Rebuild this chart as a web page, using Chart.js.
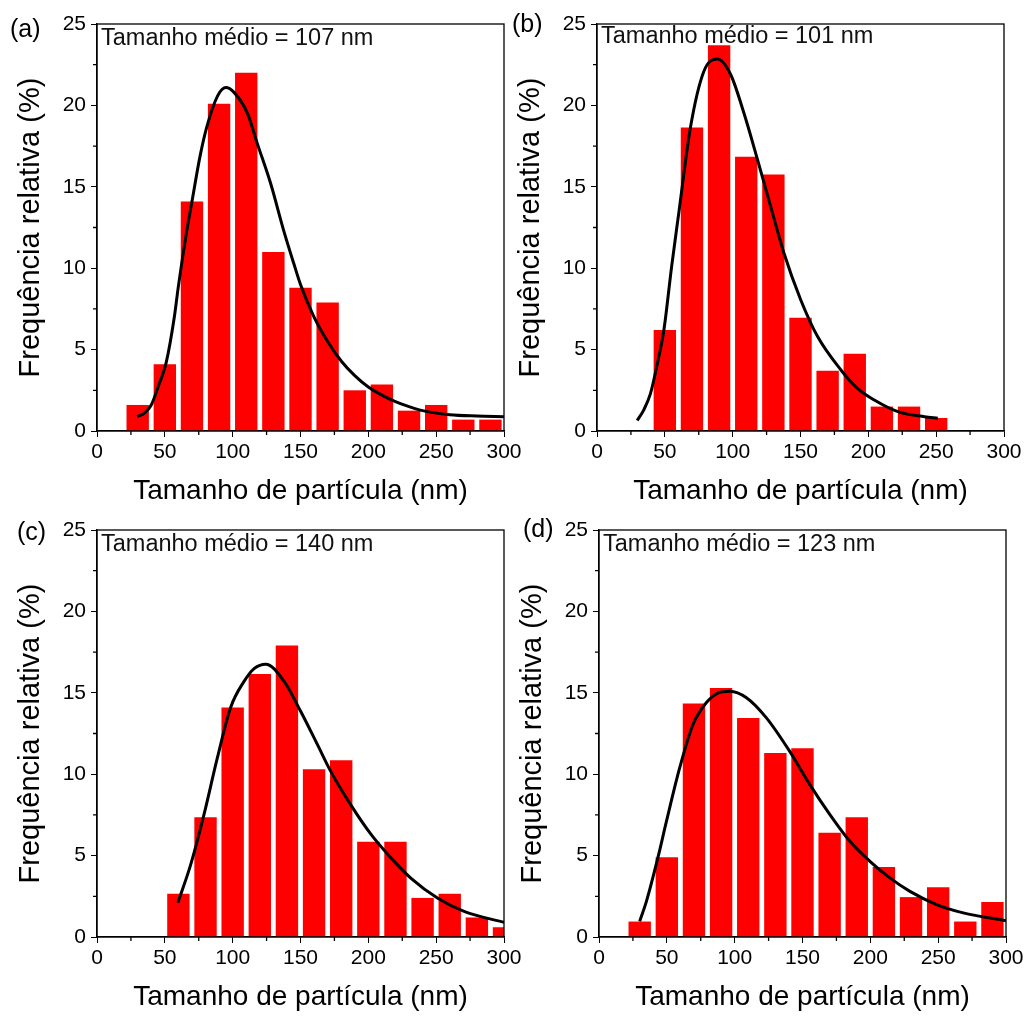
<!DOCTYPE html>
<html lang="pt">

<head>
    <meta charset="UTF-8">
    <script src="https://cdn.jsdelivr.net/npm/chart.js@4.4.1/dist/chart.umd.min.js"></script>
    <title>Distribuição de tamanho</title>
    <style>
        html, body { margin: 0; padding: 0; background: #fff; overflow: hidden; }
        body { position: relative; width: 1027px; height: 1020px; }
        canvas { position: absolute; }
    </style>
</head>

<body>
    <canvas id="chartA" width="530" height="514" style="left:0px;top:0px"></canvas>
    <canvas id="chartB" width="527" height="514" style="left:500px;top:0px"></canvas>
    <canvas id="chartC" width="530" height="514" style="left:0px;top:506px"></canvas>
    <canvas id="chartD" width="525" height="514" style="left:502px;top:506px"></canvas>
</body>

<script type='text/javascript'>

    // histogram bins (nm) and relative frequency (%)
    const binsA = [30, 50, 70, 90, 110, 130, 150, 170, 190, 210, 230, 250, 270, 290]
    const freqA = [1.6, 4.1, 14.1, 20.1, 22.0, 11.0, 8.8, 7.9, 2.5, 2.85, 1.25, 1.6, 0.7, 0.7]
    const fitXA = [29.6, 35, 40, 45, 51, 57, 60, 66, 70, 76, 81, 89, 95, 101, 111, 118, 128, 138, 145, 150, 160, 170, 180, 190, 200, 210, 220, 230, 240, 260, 280, 300]
    const fitYA = [0.88, 1.1, 1.6, 2.7, 4.2, 7.0, 8.9, 12.2, 14.1, 16.9, 18.7, 20.6, 21.1, 20.8, 19.5, 17.7, 15.2, 12.2, 10.3, 9.0, 7.0, 5.5, 4.3, 3.4, 2.7, 2.2, 1.8, 1.5, 1.25, 1.0, 0.92, 0.88]

    const binsB = [50, 70, 90, 110, 130, 150, 170, 190, 210, 230, 250]
    const freqB = [6.2, 18.65, 23.7, 16.85, 15.75, 6.95, 3.7, 4.75, 1.5, 1.5, 0.8]
    const fitXB = [29.6, 34.5, 39.4, 44, 49.3, 55, 60.3, 69, 78.8, 88.7, 98.5, 108.4, 118.2, 128, 137.9, 150.2, 162.6, 179.8, 192, 204.4, 221.7, 241.4, 251.2]
    const fitYB = [0.64, 1.3, 2.3, 3.95, 6.2, 10.1, 13.4, 18.7, 22.1, 22.85, 21.9, 19.5, 16.7, 13.8, 10.9, 8.05, 5.8, 3.75, 2.62, 1.9, 1.19, 0.88, 0.78]

    const binsC = [60, 80, 100, 120, 140, 160, 180, 200, 220, 240, 260, 280, 300]
    const freqC = [2.65, 7.35, 14.1, 16.15, 17.9, 10.3, 10.85, 5.85, 5.85, 2.4, 2.65, 1.2, 0.6]
    const fitXC = [59.6, 69, 78.8, 88.7, 98.5, 108.4, 116, 124.4, 137.9, 150.2, 162.6, 172.4, 187.2, 202, 216.7, 231.5, 251.2, 271, 300]
    const fitYC = [2.11, 4.43, 7.5, 11.0, 14.1, 15.7, 16.5, 16.76, 15.7, 13.85, 11.8, 10.16, 8.1, 6.3, 4.86, 3.6, 2.38, 1.56, 0.9]

    const binsD = [30, 50, 70, 90, 110, 130, 150, 170, 190, 210, 230, 250, 270, 290]
    const freqD = [0.95, 4.9, 14.35, 15.3, 13.45, 11.3, 11.6, 6.4, 7.35, 4.3, 2.45, 3.05, 0.95, 2.15]
    const fitXD = [30, 35, 43.5, 49.7, 59.5, 69.3, 79.2, 88, 96.4, 108.7, 123.4, 140.6, 155.4, 170.2, 184.9, 199.7, 214.4, 229.2, 248.8, 268.5, 300]
    const fitYD = [0.96, 2.2, 4.9, 7.1, 10.4, 13.05, 14.4, 15.0, 15.1, 14.7, 13.46, 11.4, 9.36, 7.52, 5.88, 4.65, 3.63, 2.8, 1.99, 1.48, 1.0]

    // minor tick positions
    const xMinor = [25, 75, 125, 175, 225, 275]
    const yMinor = [2.5, 7.5, 12.5, 17.5, 22.5]

    Chart.defaults.font.family = '"Liberation Sans", Arial, sans-serif'
    Chart.defaults.color = '#000'

    // frame, minor ticks, panel letter and mean-size note
    const framePlugin = {
        id: 'frame',
        afterDraw(chart, args, opts) {
            const { ctx, chartArea: a, scales: { x, y } } = chart
            ctx.save()
            ctx.strokeStyle = '#000'
            ctx.lineWidth = 1.3
            ctx.strokeRect(a.left, a.top, a.right - a.left, a.bottom - a.top)
            ctx.beginPath()
            xMinor.forEach(v => {
                const px = x.getPixelForValue(v)
                ctx.moveTo(px, a.bottom)
                ctx.lineTo(px, a.bottom + 4)
            })
            yMinor.forEach(v => {
                const py = y.getPixelForValue(v)
                ctx.moveTo(a.left, py)
                ctx.lineTo(a.left - 4, py)
            })
            ctx.stroke()
            ctx.fillStyle = '#000'
            ctx.textBaseline = 'alphabetic'
            ctx.textAlign = 'left'
            ctx.font = '25px "Liberation Sans", Arial, sans-serif'
            ctx.fillText(opts.letter, opts.lx, opts.ly)
            ctx.fillStyle = '#111'
            ctx.font = '23.5px "Liberation Sans", Arial, sans-serif'
            ctx.fillText(opts.note, a.left + 4, a.top + opts.noteY)
            ctx.restore()
        }
    }

    makePanel = (id, bins, freq, fitX, fitY, padRight, letter, lx, ly, note, noteY) => {
        const ctx = document.getElementById(id).getContext('2d')
        return new Chart(ctx, {
            type: 'bar',
            data: {
                datasets: [{
                    type: 'line',
                    data: fitX.map((v, i) => ({ x: v, y: fitY[i] })),
                    borderColor: '#000',
                    borderWidth: 3,
                    pointRadius: 0,
                    cubicInterpolationMode: 'monotone',
                    order: 0
                }, {
                    type: 'bar',
                    data: bins.map((v, i) => ({ x: v, y: freq[i] })),
                    backgroundColor: '#ff0000',
                    barPercentage: 1,
                    categoryPercentage: 0.825,
                    clip: 0,
                    order: 1
                }]
            },
            options: {
                responsive: false,
                animation: false,
                layout: { padding: { top: 24, right: padRight, left: 0, bottom: 0 } },
                plugins: {
                    legend: { display: false },
                    tooltip: { enabled: false },
                    frame: { letter: letter, lx: lx, ly: ly, note: note, noteY: noteY }
                },
                scales: {
                    x: {
                        type: 'linear',
                        min: 0,
                        max: 300,
                        offset: false,
                        grid: { drawOnChartArea: false, tickLength: 6, color: '#000', offset: false },
                        border: { color: '#000', width: 1.3 },
                        ticks: { stepSize: 50, font: { size: 21 }, padding: 3, maxRotation: 0, autoSkip: false },
                        title: { display: true, text: 'Tamanho de partícula (nm)', font: { size: 28 }, padding: { top: 0, bottom: 6 } },
                        afterFit: s => { s.height = 83; s.paddingLeft = 0; s.paddingRight = 0 }
                    },
                    y: {
                        min: 0,
                        max: 25,
                        grid: { drawOnChartArea: false, tickLength: 6, color: '#000' },
                        border: { color: '#000', width: 1.3 },
                        ticks: { stepSize: 5, font: { size: 21 }, padding: 5 },
                        title: { display: true, text: 'Frequência relativa (%)', font: { size: 29 }, padding: { top: 14, bottom: 0 } },
                        afterFit: s => { s.width = 97 }
                    }
                }
            },
            plugins: [framePlugin]
        })
    }

    makePanel('chartA', binsA, freqA, fitXA, fitYA, 26, '(a)', 10, 37, 'Tamanho médio = 107 nm', 21)
    makePanel('chartB', binsB, freqB, fitXB, fitYB, 23, '(b)', 12, 32, 'Tamanho médio = 101 nm', 19)
    makePanel('chartC', binsC, freqC, fitXC, fitYC, 26, '(c)', 17, 34, 'Tamanho médio = 140 nm', 21)
    makePanel('chartD', binsD, freqD, fitXD, fitYD, 21, '(d)', 21, 31, 'Tamanho médio = 123 nm', 21)

</script>

</html>
